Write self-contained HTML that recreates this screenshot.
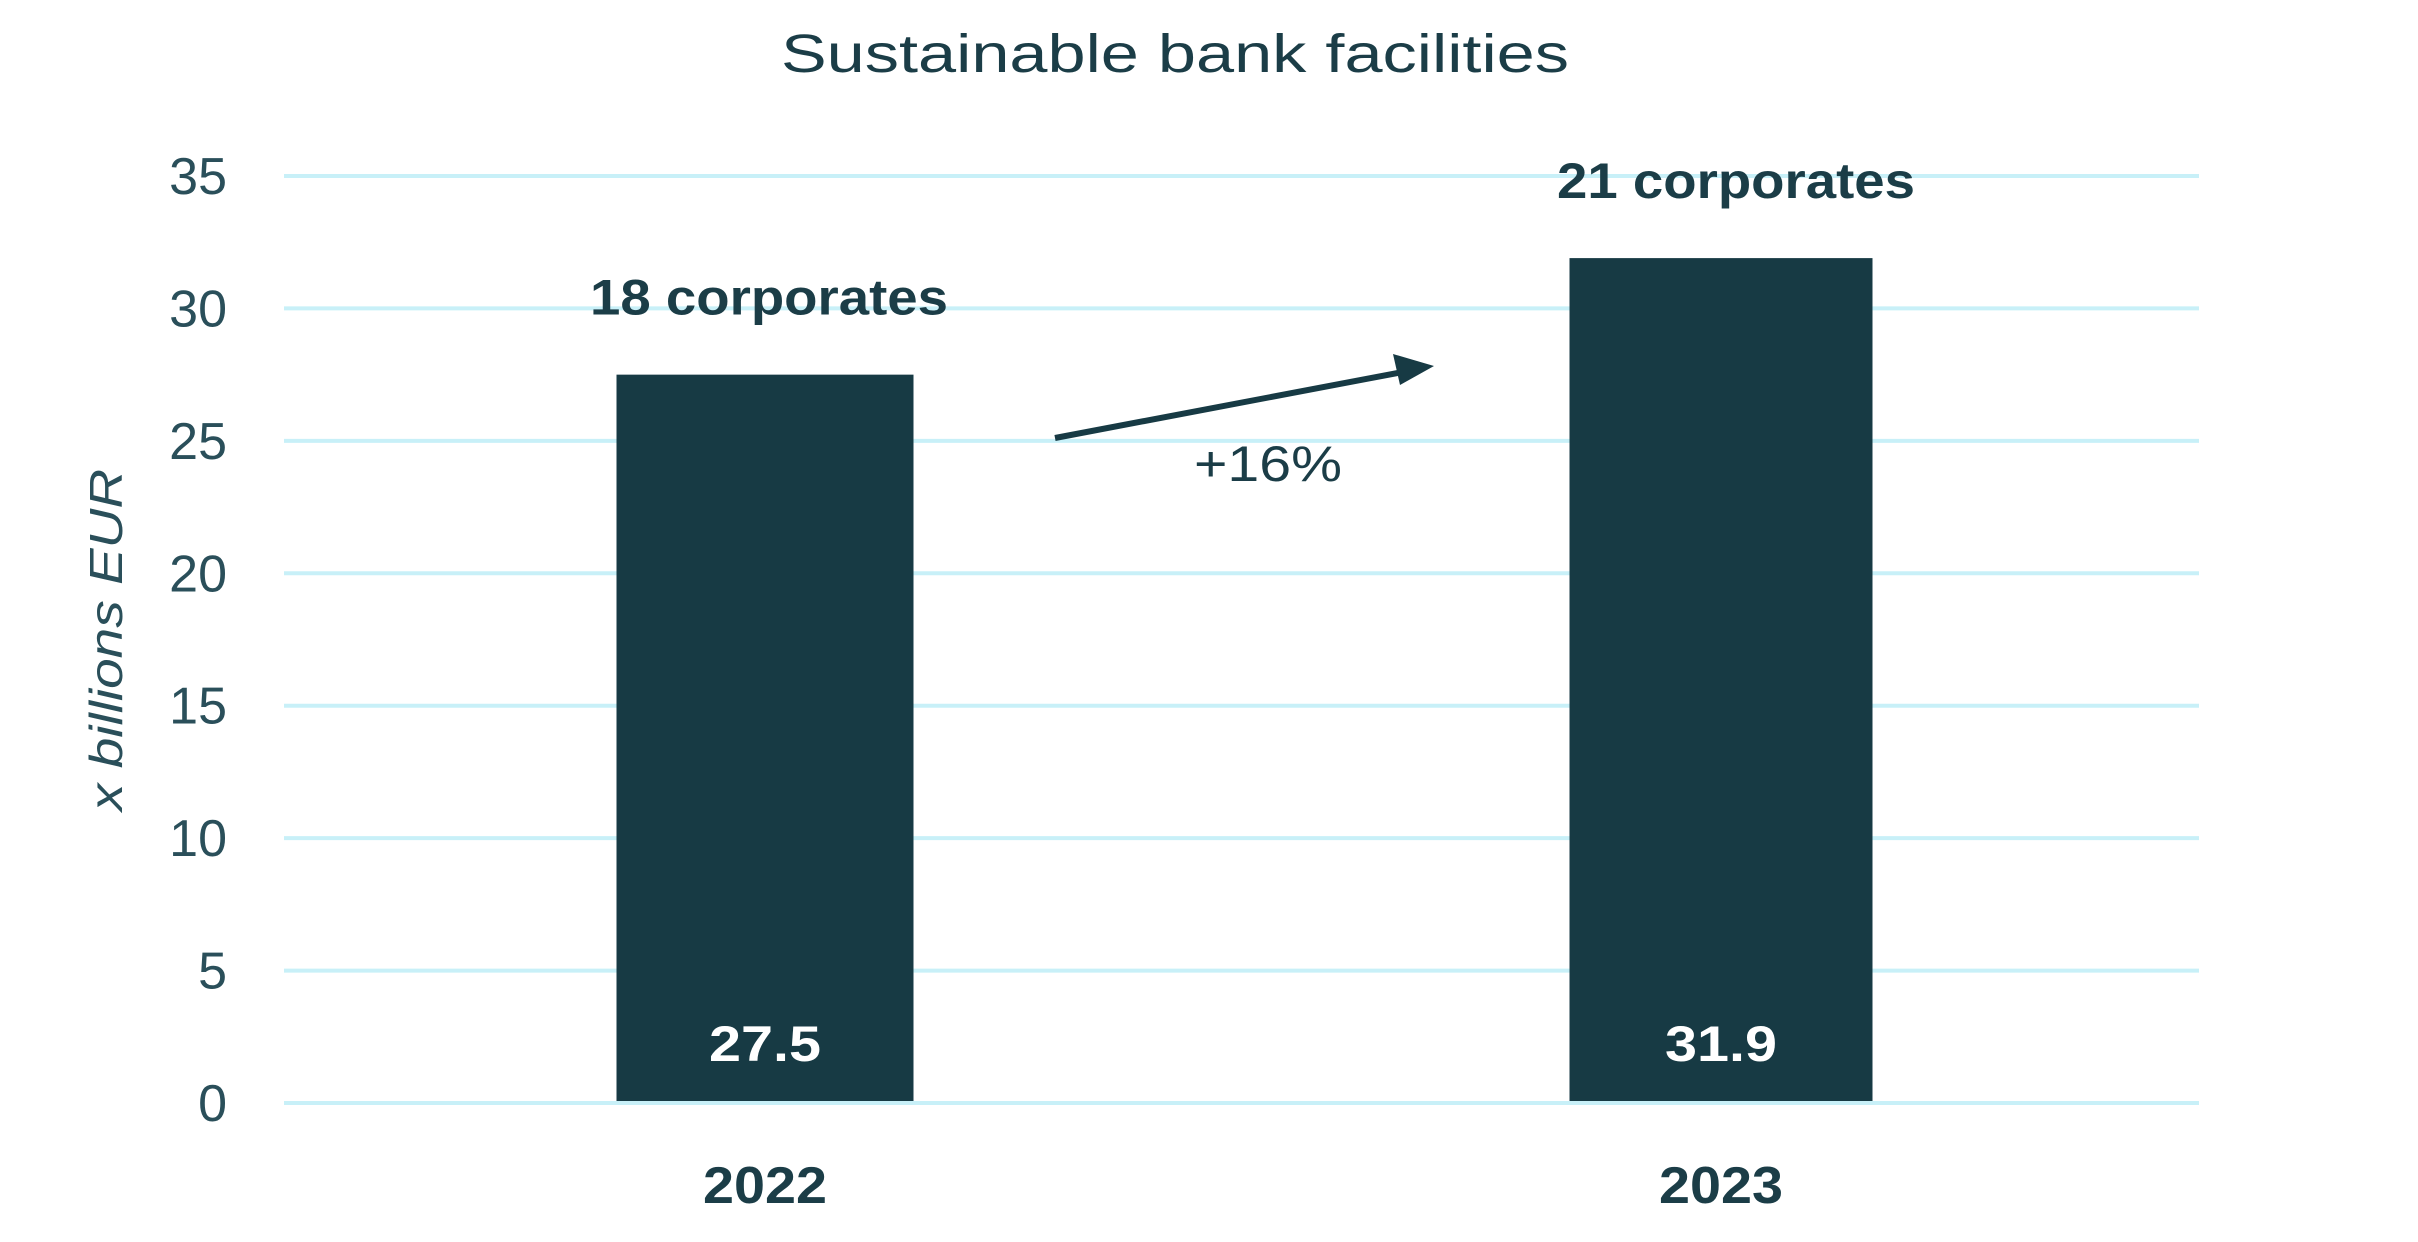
<!DOCTYPE html>
<html><head><meta charset="utf-8"><style>
html,body{margin:0;padding:0;background:#fff;}
svg{display:block;font-family:"Liberation Sans",sans-serif;}
</style></head><body>
<svg id="chart" width="2418" height="1242" viewBox="0 0 2418 1242">
<text x="1175" y="72" text-anchor="middle" font-size="54" fill="#1b3d47" textLength="788" lengthAdjust="spacingAndGlyphs">Sustainable bank facilities</text>
<g id="grid"></g>
<g id="bars"></g>
<text transform="translate(122,640) rotate(-90)" text-anchor="middle" font-size="46" font-style="italic" fill="#2a4f5a" textLength="342" lengthAdjust="spacingAndGlyphs">x billions EUR</text>
<line x1="1055" y1="438" x2="1408" y2="371" stroke="#173a44" stroke-width="6"/>
<polygon points="1434,366 1393,354 1400,385" fill="#173a44"/>
<text x="1268" y="481" text-anchor="middle" font-size="50" fill="#1b3d47" textLength="148" lengthAdjust="spacingAndGlyphs">+16%</text>
</svg>
<script>
const categories = ["2022", "2023"];
const values = [27.5, 31.9];
const valueLabels = ["27.5", "31.9"];
const topLabels = ["18 corporates", "21 corporates"];
const yTicks = [0, 5, 10, 15, 20, 25, 30, 35];

const NS = "http://www.w3.org/2000/svg";
const plotLeft = 284, plotRight = 2199, y0 = 1103, yTop = 176, yMax = 35;
const y = v => y0 - (v / yMax) * (y0 - yTop);
const centers = [765, 1721];
const barW = [297, 303];
const x = i => centers[i];

function mk(tag, attrs, parent, txt) {
  const e = document.createElementNS(NS, tag);
  for (const k in attrs) e.setAttribute(k, attrs[k]);
  if (txt !== undefined) e.textContent = txt;
  parent.appendChild(e);
  return e;
}
const grid = document.getElementById("grid");
const bars = document.getElementById("bars");

yTicks.forEach(t => {
  const l = mk("line", {x1: plotLeft, x2: plotRight, y1: y(t), y2: y(t), stroke: "#c8f0f8", "stroke-width": 4}, grid);
  
  
  const tx = mk("text", {x: 227, y: y(t) + 18, "text-anchor": "end", "font-size": 52, fill: "#2a4f5a"}, grid, String(t));
  
  
});

categories.forEach((c, i) => {
  const w = barW[i];
  const r = mk("rect", {x: x(i) - w / 2, y: y(values[i]), width: w, height: y(0) - y(values[i]) - 2, fill: "#173a44"}, bars);
  
  
  const v = mk("text", {x: x(i), y: 1061, "text-anchor": "middle", "font-size": 50, "font-weight": "bold", fill: "#fff", textLength: 112, lengthAdjust: "spacingAndGlyphs"}, bars, valueLabels[i]);
  
  
  const tl = mk("text", {x: x(i) + (i ? 15 : 4), y: y(values[i]) - 60, "text-anchor": "middle", "font-size": 50, "font-weight": "bold", fill: "#1b3d47", textLength: 358, lengthAdjust: "spacingAndGlyphs"}, bars, topLabels[i]);
  
  
  const xl = mk("text", {x: x(i), y: 1203, "text-anchor": "middle", "font-size": 52, "font-weight": "bold", fill: "#1b3d47", textLength: 124, lengthAdjust: "spacingAndGlyphs"}, bars, c);
  
  
});
</script>
</body></html>
